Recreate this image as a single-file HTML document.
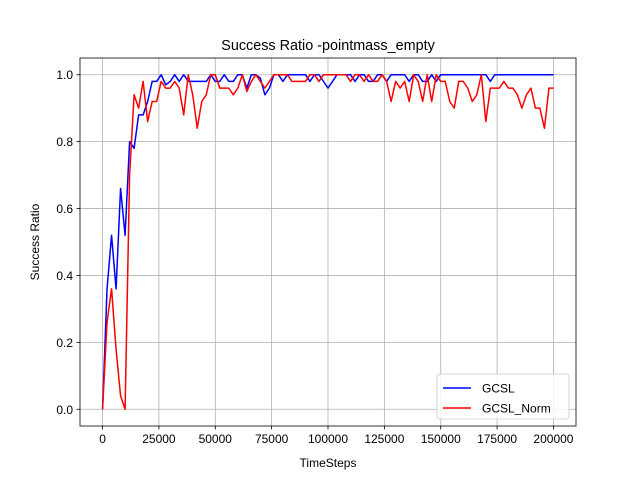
<!DOCTYPE html>
<html><head><meta charset="utf-8"><style>body{margin:0;background:#fff}svg{display:block;font-family:"Liberation Sans","DejaVu Sans",sans-serif}</style></head>
<body>
<svg id="c" width="640" height="480"></svg>
<script>
const xTicks=[0,25000,50000,75000,100000,125000,150000,175000,200000];
const yTicks=[0,0.2,0.4,0.6,0.8,1.0];
const stepSize=2000;
const gcsl=[0,0.36,0.52,0.36,0.66,0.52,0.80,0.78,0.88,0.88,0.92,0.98,0.98,1.0,0.97,0.98,1.0,0.98,1.0,0.98,0.98,0.98,0.98,0.98,1.0,0.98,0.98,1.0,0.98,0.98,1.0,1.0,0.96,1.0,1.0,0.99,0.94,0.96,1.0,1.0,0.98,1.0,1.0,1.0,1.0,1.0,0.98,1.0,1.0,0.98,0.96,0.98,1.0,1.0,1.0,1.0,0.98,1.0,1.0,0.98,0.98,1.0,1.0,0.98,1.0,1.0,1.0,1.0,0.98,1.0,1.0,0.98,0.98,1.0,0.98,1.0,1.0,1.0,1.0,1.0,1.0,1.0,1.0,1.0,1.0,1.0,0.98,1.0,1.0,1.0,1.0,1.0,1.0,1.0,1.0,1.0,1.0,1.0,1.0,1.0,1.0];
const gcslNorm=[0,0.26,0.36,0.18,0.04,0,0.70,0.94,0.90,0.98,0.86,0.92,0.92,0.98,0.96,0.96,0.98,0.96,0.88,1.0,0.94,0.84,0.92,0.94,1.0,1.0,0.96,0.96,0.96,0.94,0.96,1.0,0.95,0.98,1.0,0.98,0.96,0.98,1.0,1.0,1.0,1.0,0.98,0.98,0.98,0.98,1.0,1.0,0.98,1.0,1.0,1.0,1.0,1.0,1.0,0.98,1.0,1.0,0.98,1.0,0.98,0.98,1.0,0.98,0.92,0.98,0.96,0.98,0.92,1.0,0.98,0.92,1.0,0.92,1.0,0.98,0.98,0.92,0.90,0.98,0.98,0.96,0.92,0.94,1.0,0.86,0.96,0.96,0.96,0.98,0.96,0.96,0.94,0.90,0.94,0.96,0.90,0.90,0.84,0.96,0.96];
const L=80,R=576,T=58,B=426;
const xs=v=>L+(v+10000)/220000*(R-L);
const ys=v=>B-(v+0.05)/1.1*(B-T);
const svg=document.getElementById('c');const NS='http://www.w3.org/2000/svg';
function mk(t,a,p){const e=document.createElementNS(NS,t);for(const k in a)e.setAttribute(k,a[k]);(p||svg).appendChild(e);return e;}
let e;
xTicks.forEach(v=>{const x=xs(v);
e=mk('line',{x1:x,x2:x,y1:T,y2:B,stroke:'#b0b0b0','stroke-width':0.8});
mk('line',{x1:x,x2:x,y1:B,y2:B+3.5,stroke:'#000','stroke-width':0.8});
e=mk('text',{x:x,y:B+17,'font-size':12,'text-anchor':'middle'});e.textContent=String(v);});
yTicks.forEach(v=>{const y=ys(v);
e=mk('line',{x1:L,x2:R,y1:y,y2:y,stroke:'#b0b0b0','stroke-width':0.8});
mk('line',{x1:L-3.5,x2:L,y1:y,y2:y,stroke:'#000','stroke-width':0.8});
e=mk('text',{x:L-7,y:y+4.5,'font-size':12,'text-anchor':'end'});e.textContent=v.toFixed(1);});
function line(d,c,n){const p=d.map((v,i)=>xs(i*stepSize).toFixed(2)+','+ys(v).toFixed(2)).join(' ');
e=mk('polyline',{points:p,fill:'none',stroke:c,'stroke-width':1.5,'stroke-linejoin':'round'});}
line(gcsl,'#0000ff','gcsl-line');line(gcslNorm,'#ff0000','gcsl-norm-line');
e=mk('rect',{x:L,y:T,width:R-L,height:B-T,fill:'none',stroke:'#000','stroke-width':0.8});
e=mk('text',{x:(L+R)/2,y:T-8,'font-size':14.4,'text-anchor':'middle'});e.textContent='Success Ratio -pointmass_empty';
e=mk('text',{x:(L+R)/2,y:467,'font-size':12,'text-anchor':'middle'});e.textContent='TimeSteps';
e=mk('text',{x:0,y:0,'font-size':12,'text-anchor':'middle',transform:'translate(39,'+((T+B)/2)+') rotate(-90)'});e.textContent='Success Ratio';
const g=mk('g',{});
mk('rect',{x:437,y:374,width:132,height:45,rx:3,fill:'#fff','fill-opacity':0.8,stroke:'#ccc','stroke-width':0.8},g);
[['GCSL','#0000ff',388],['GCSL_Norm','#ff0000',408]].forEach(([t,c,y])=>{
e=mk('line',{x1:443,x2:471,y1:y,y2:y,stroke:c,'stroke-width':1.5},g);
e=mk('text',{x:482,y:y+4.5,'font-size':12},g);e.textContent=t;});
</script>
</body></html>
